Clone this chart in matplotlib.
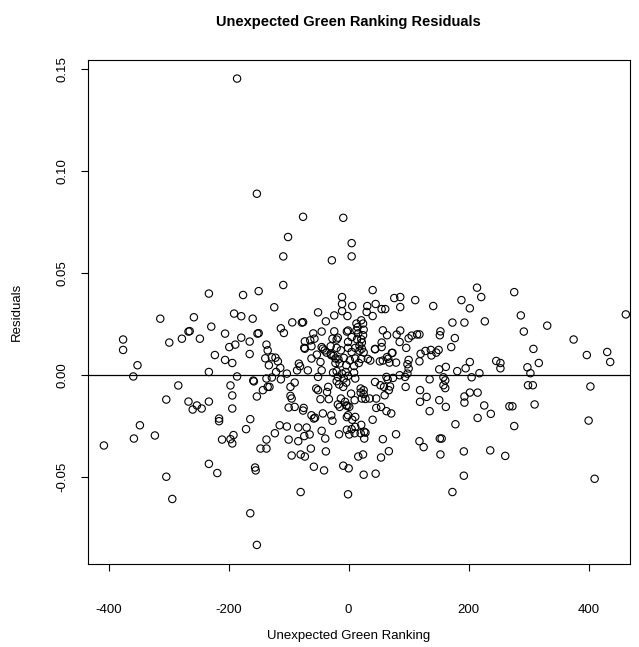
import matplotlib
matplotlib.use("Agg")
import matplotlib.pyplot as plt
import numpy as np

plt.rcParams['font.family'] = ['Liberation Sans', 'DejaVu Sans']

# residuals (ranking, residual)
ranking_top = [-186, -153, -76, -9, -101, 5, -109, -28, 5]
resid_top = [0.1453, 0.0889, 0.0776, 0.0771, 0.0677, 0.0647, 0.0582, 0.0563, 0.0582]

ranking_left = [-233, -176, -150, -314, -258, -191, -179, -160, -229, -267, -265, -206, -152, -150,
                -376, -376, -299, -278, -248, -179, -165, -199, -189, -137, -223, -206, -194, -165,
                -139, -135, -352, -359, -233, -186, -159, -158, -137, -284, -197, -143, -135, -194,
                -153, -304, -267, -253, -260, -245, -233, -194,
                -216, -216, -164, -348, -358, -323, -408, -171, -211, -197, -192, -194, -137, -147,
                -137, -233, -219, -156, -155, -304, -294, -164, -153]
resid_left = [0.040, 0.0393, 0.0412, 0.0277, 0.0284, 0.0302, 0.0289, 0.0277, 0.0238, 0.0214, 0.0216,
              0.0204, 0.0204, 0.0206, 0.0175, 0.0124, 0.016, 0.0179, 0.0179, 0.0184, 0.0165, 0.0138,
              0.015, 0.015, 0.0099, 0.0075, 0.006, 0.0104, 0.0083, 0.0122, 0.0049, -0.0006, 0.0016,
              -0.0006, -0.0026, -0.003, -0.0016, -0.005, -0.005, -0.0073, -0.0057, -0.0099, -0.0104,
              -0.0119, -0.0129, -0.0148, -0.0168, -0.0163, -0.0129, -0.0163,
              -0.0212, -0.0225, -0.0215, -0.0245, -0.031, -0.0295, -0.0344, -0.0264, -0.0315, -0.0313,
              -0.0293, -0.0334, -0.0315, -0.0359, -0.0359, -0.0434, -0.0479, -0.0452, -0.0466, -0.0497,
              -0.0606, -0.0676, -0.0831]

ranking_right = [214, 276, 188, 221, 202, 462, 287, 173, 193, 227, 331, 292, 177, 375, 171, 308, 431,
                 397, 436, 317, 202, 246, 253, 253, 298, 303, 195, 181, 218, 205, 299, 307, 403, 202,
                 215, 193, 193, 226, 268, 273, 310, 237, 215, 400,
                 178, 276, 192, 236, 261, 192, 410, 173]
resid_right = [0.0429, 0.0407, 0.0368, 0.0383, 0.0328, 0.0298, 0.0293, 0.0258, 0.0258, 0.0264, 0.0243,
               0.0214, 0.0182, 0.0175, 0.0138, 0.0129, 0.0114, 0.0099, 0.0065, 0.006, 0.0065, 0.007,
               0.006, 0.0034, 0.0039, 0.001, 0.0034, 0.002, 0.001, -0.001, -0.0049, -0.0049, -0.0055,
               -0.0085, -0.0085, -0.0104, -0.0134, -0.0148, -0.0152, -0.0152, -0.0143, -0.0189, -0.0209,
               -0.0222,
               -0.024, -0.0249, -0.0373, -0.0368, -0.0395, -0.0492, -0.0507, -0.0572]

ranking_low = [-115, -103, -123, -84, -70, -74, -65, -100, -84, -45, -39, -63, -38, -95, -80, -73, -58,
               -41, -80, -16, -3, 1, 5, 11, 10, 21, 20, 26, 28, 26, 40, 57, 79, 67, 54, 24, 16, -9, 0,
               25, 45, -1, 118, 125, 152, 155, 153, -58, -56, -27, -3, 6]
resid_low = [-0.0245, -0.0251, -0.0284, -0.0256, -0.0256, -0.0298, -0.029, -0.0315, -0.0323, -0.0272,
             -0.031, -0.0359, -0.0373, -0.0393, -0.0388, -0.0398, -0.0448, -0.0466, -0.0572, -0.0289,
             -0.0267, -0.029, -0.0264, -0.0253, -0.0284, -0.0243, -0.0284, -0.0277, -0.0281, -0.031,
             -0.0218, -0.0313, -0.0289, -0.0372, -0.0403, -0.0388, -0.0398, -0.0443, -0.0456, -0.0487,
             -0.0482, -0.0583, -0.0323, -0.0352, -0.031, -0.031, -0.0388, -0.0212, -0.0208, -0.0223,
             -0.0205, -0.0218]

ranking_up = [-109, 40, -11, 76, 86, 111, -124, -11, 6, 31, 45, 55, 61, 86, 141, -51, -11, -2, -24, 30,
              40, 21, 24, 25, 57, 64, 86, 80, 105, 100, 114, 118, 153, 152, 21, 55, 85,
              -94, -78, -76, -38, -113, -108, -59, -45, -24, -1, -3, 13, 13, -73, -64, -57, -27, -18,
              -20, 5, -1, 15, 16, 24, 14, 22, 18, -74, -62, -45, -40, -30, -25, 44, 72]
resid_up = [0.0442, 0.0417, 0.0383, 0.0378, 0.0383, 0.0368, 0.0333, 0.0349, 0.0339, 0.0339, 0.0349,
            0.0324, 0.0324, 0.0334, 0.0339, 0.0308, 0.0314, 0.029, 0.0293, 0.031, 0.029, 0.0269, 0.0253,
            0.0223, 0.022, 0.0196, 0.0219, 0.0199, 0.0194, 0.0181, 0.02, 0.02, 0.0215, 0.0196, 0.0176,
            0.016, 0.0163,
            0.0259, 0.0258, 0.026, 0.0264, 0.023, 0.0207, 0.0205, 0.0214, 0.0215, 0.0219, 0.0214, 0.0253,
            0.022, 0.0166, 0.0171, 0.0179, 0.0179, 0.0184, 0.0175, 0.0187, 0.0163, 0.0235, 0.0205,
            0.0196, 0.0176, 0.016, 0.0145, 0.0134, 0.0142, 0.0138, 0.0122, 0.0105, 0.0095, 0.0129, 0.0109]

ranking_mid = [-128, -122, -118, -133, -114, -121, -103, -128, -113, -132, -90, -97, -86, -83, -81, -73,
               -62, -53, -47, -68, -51, -45, -43, -37, -30, -20, -13, -1, 5, 11, -29, -22, -17, -8, 2,
               11, -22, -15, -4, 9, -26, -20, -11, -5, -1, -18, -20, -16, -8, -4, -9, 11, 9, -54, -51,
               -34, -36, -33, -47, -97, -95, -90, -100, -75, -76, -62, -43, -29, -13, -6, -2, 1, -4,
               -18, -15, 4, 10, -1, 11,
               18, 22, 25, 44, 55, 73, 96, 120, 128, 137, 138, 146, 150, 118, 151, 162, 21, 32, 36, 52,
               57, 66, 68, 79, 64, 100, 98, 100, 63, 65, 74, 85, 94, 98, 17, 135, 158, 161, 158, 161,
               95, 44, 53, 59, 69, 67, 20, 25, 20, 25, 22, 28, 35, 46, 60, 119, 130, 119, 151, 162, 46,
               54, 63, 71, 135]
resid_mid = [0.0088, 0.0086, 0.0068, 0.0049, 0.0036, 0.0016, 0.0008, -0.0011, -0.002, -0.0057, -0.0036,
             -0.0057, 0.0024, 0.0057, 0.0044, 0.013, 0.0082, 0.0101, 0.0065, 0.0024, -0.0008, 0.0024,
             0.013, 0.0111, 0.0142, 0.0134, 0.0122, 0.0134, 0.0114, 0.0134, 0.0098, 0.0082, 0.0078,
             0.0085, 0.0073, 0.0082, 0.006, 0.0058, 0.0049, 0.0045, 0.0013, 0.002, 0.0008, 0.0016,
             -0.0003, -0.0008, -0.0029, -0.0045, -0.0016, -0.0036, -0.0057, -0.0016, 0.0013, -0.0065,
             -0.0073, -0.0057, -0.0082, -0.0117, -0.0117, -0.0101, -0.0114, -0.0155, -0.0158, -0.016,
             -0.0173, -0.0196, -0.0187, -0.0196, -0.0114, -0.013, -0.015, -0.0155, -0.0148, -0.0143,
             -0.0155, -0.009, -0.0122, -0.0196, -0.0204,
             0.012, 0.013, 0.0112, 0.0127, 0.0138, 0.011, 0.0134, 0.0105, 0.0119, 0.0124, 0.0097,
             0.0111, 0.0124, 0.0068, 0.0029, 0.0041, 0.008, 0.008, 0.0072, 0.0068, 0.0072, 0.0081,
             0.0062, 0.0062, 0.0089, 0.0075, 0.0054, 0.0033, -0.0008, -0.002, -0.0013, 0.0, -0.0008,
             0.0008, 0.006, -0.002, -0.001, -0.0025, -0.0049, -0.0063, -0.0057, -0.0033, -0.0049,
             -0.0057, -0.0055, -0.0073, -0.0065, -0.0073, -0.0085, -0.0092, -0.0114, -0.0116, -0.0114,
             -0.0114, -0.0098, -0.0073, -0.0106, -0.013, -0.0122, -0.0155, -0.016, -0.0155, -0.0176,
             -0.0187, -0.0176]

x_ticks = [-400, -200, 0, 200, 400]
y_ticks = [-0.05, 0.00, 0.05, 0.10, 0.15]
y_tick_labels = ["-0.05", "0.00", "0.05", "0.10", "0.15"]

x = np.concatenate([ranking_top, ranking_left, ranking_right, ranking_low, ranking_up, ranking_mid])
y = np.concatenate([resid_top, resid_left, resid_right, resid_low, resid_up, resid_mid])

W, H = 639, 647
fig = plt.figure(figsize=(W / 100, H / 100), dpi=100)
ax = fig.add_axes([88 / W, 1 - 563.5 / H, (630 - 88) / W, (563.5 - 60) / H])

ax.scatter(x, y, s=28, facecolors='none', edgecolors='black', linewidths=0.8, zorder=3)
ax.axhline(0, color='black', linewidth=0.9, zorder=2)

ax.set_xlim(-434.5, 469)
ax.set_ylim(-0.0922, 0.1544)
ax.set_xticks(x_ticks)
ax.set_xticklabels([str(t) for t in x_ticks])
ax.set_yticks(y_ticks)
ax.set_yticklabels(y_tick_labels, rotation=90, va='center')
ax.tick_params(axis='x', length=5, width=0.8, pad=24, labelsize=9.5)
ax.tick_params(axis='y', length=5, width=0.8, pad=9, labelsize=9.5)
for sp in ax.spines.values():
    sp.set_linewidth(0.8)

fig.text(348 / W, 1 - 22 / H, "Unexpected Green Ranking Residuals", ha='center', va='center',
         fontsize=10.5, fontweight='bold')
fig.text(349 / W, 1 - 636 / H, "Unexpected Green Ranking", ha='center', va='center', fontsize=9.5)
fig.text(17 / W, 1 - 312 / H, "Residuals", ha='center', va='center', rotation=90, fontsize=9.5)

fig.savefig("out.png", dpi=100)
